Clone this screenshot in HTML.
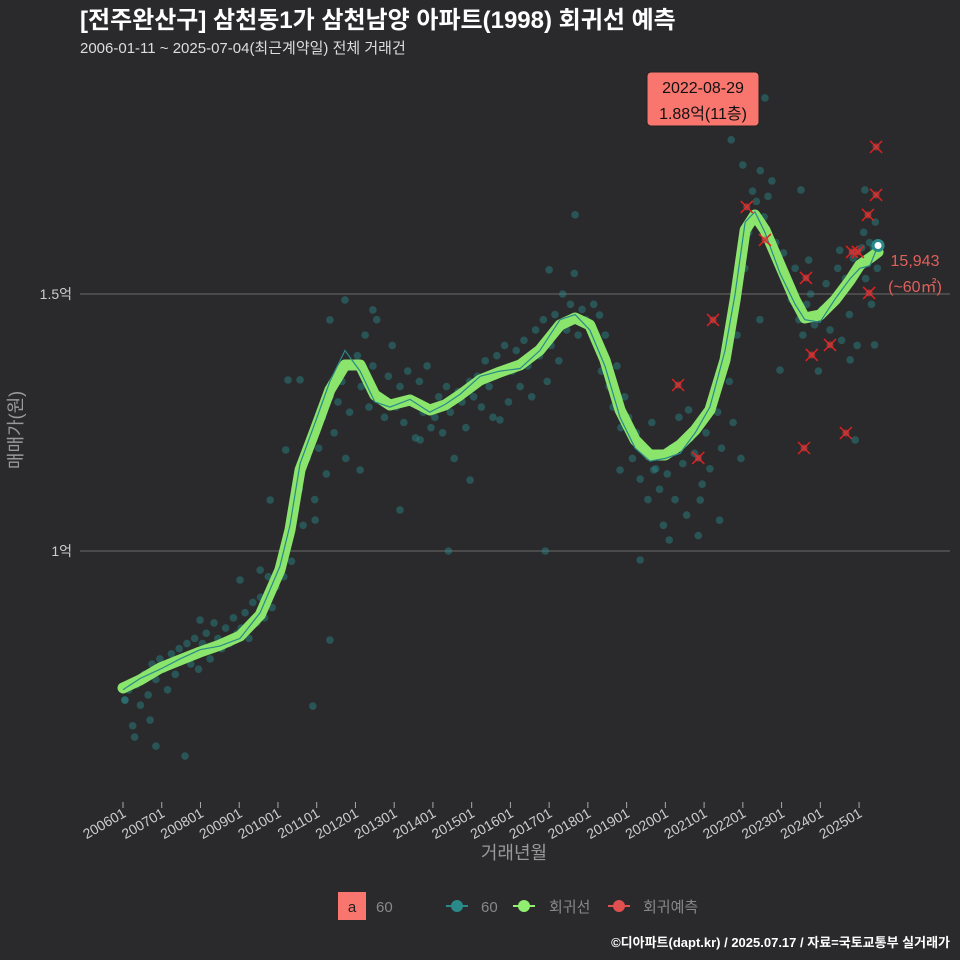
<!DOCTYPE html>
<html><head><meta charset="utf-8">
<style>
html,body{margin:0;padding:0;background:#2a2a2c;}
svg{display:block;font-family:"Liberation Sans","Noto Sans CJK KR",sans-serif;}
</style></head>
<body>
<svg id="chart" width="960" height="960" viewBox="0 0 960 960">
<rect width="960" height="960" fill="#2a2a2c"/>
<text x="80" y="28" fill="#ffffff" font-size="24" font-weight="bold">[전주완산구] 삼천동1가 삼천남양 아파트(1998) 회귀선 예측</text>
<text x="80" y="53" fill="#dddddd" font-size="15">2006-01-11 ~ 2025-07-04(최근계약일) 전체 거래건</text>
<g id="grid"></g>
<g id="dots"></g>
<g id="lines"></g>
<g id="preds"></g>
<g id="axes"></g>
<text x="22" y="430" fill="#999" font-size="18" transform="rotate(-90 22 430)" text-anchor="middle">매매가(원)</text>
<text x="514" y="859" fill="#999" font-size="18" text-anchor="middle">거래년월</text>
<g>
<rect x="647" y="72" width="112" height="54" rx="4" fill="#f8766d" stroke="#222"/>
<text x="703" y="93" text-anchor="middle" font-size="16" fill="#111">2022-08-29</text>
<text x="703" y="119" text-anchor="middle" font-size="16" fill="#111">1.88억(11층)</text>
</g>
<text x="915" y="266" text-anchor="middle" font-size="16" fill="#e0605a">15,943</text>
<text x="915" y="292" text-anchor="middle" font-size="16" fill="#e0605a">(~60㎡)</text>
<g>
<rect x="338" y="892" width="28" height="28" fill="#f8766d"/>
<text x="352" y="912" text-anchor="middle" font-size="15" fill="#222">a</text>
<text x="376" y="912" font-size="15" fill="#888">60</text>
<g><line x1="446" y1="906" x2="468" y2="906" stroke="#2a8a8a" stroke-width="2"/><circle cx="457" cy="906" r="6" fill="#2a8a8a"/><text x="481" y="912" font-size="15" fill="#888">60</text></g>
<g><line x1="513" y1="906" x2="535" y2="906" stroke="#90ee70" stroke-width="2"/><circle cx="524" cy="906" r="6" fill="#90ee70"/><text x="549" y="912" font-size="15" fill="#888">회귀선</text></g>
<g><line x1="608" y1="906" x2="630" y2="906" stroke="#e05050" stroke-width="2"/><circle cx="619" cy="906" r="6" fill="#e05050"/><text x="643" y="912" font-size="15" fill="#888">회귀예측</text></g>
</g>
<text x="950" y="947" text-anchor="end" font-size="13" font-weight="bold" fill="#ffffff">©디아파트(dapt.kr) / 2025.07.17 / 자료=국토교통부 실거래가</text>
</svg>
<script>
const yTickValues=[10000,15000];
const yTickLabels=["1억","1.5억"];
const xTickYears=[2006,2007,2008,2009,2010,2011,2012,2013,2014,2015,2016,2017,2018,2019,2020,2021,2022,2023,2024,2025];
const xTickLabels=["200601","200701","200801","200901","201001","201101","201201","201301","201401","201501","201601","201701","201801","201901","202001","202101","202201","202301","202401","202501"];
const regYears=[2006.0,2006.44,2006.96,2007.47,2007.99,2008.5,2009.02,2009.54,2010.05,2010.31,2010.57,2010.96,2011.34,2011.73,2012.12,2012.5,2012.89,2013.41,2013.92,2014.31,2014.7,2015.22,2015.73,2016.25,2016.76,2017.28,2017.67,2018.05,2018.44,2018.83,2019.22,2019.6,2019.99,2020.38,2020.77,2021.15,2021.54,2021.8,2022.06,2022.31,2022.57,2022.96,2023.35,2023.6,2023.99,2024.38,2024.77,2025.02,2025.28,2025.49];
const regValues=[7335,7490,7724,7880,8035,8171,8346,8755,9630,10409,11576,12354,13132,13619,13619,13035,12840,12938,12743,12840,13035,13327,13482,13619,13911,14397,14533,14397,13716,12743,12160,11868,11868,12062,12354,12743,13716,14883,16245,16537,16245,15564,14883,14533,14592,14883,15272,15564,15700,15817];
const avgValues=[7300,7520,7700,7900,8080,8150,8300,8800,9700,10500,11700,12500,13300,13900,13500,12900,12800,12950,12700,12850,13050,13400,13500,13550,13900,14500,14600,14300,13600,12600,12000,11750,11800,11900,12300,12800,13900,15000,16400,16600,16200,15400,14800,14500,14450,14900,15300,15500,15550,15943];
const outlierYears=[2010.9,2006.85,2007.6,2006.3,2011.34,2010.26,2014.4,2016.9,2013.15,2017.67,
2017.0,2018.3,2019.35,2020.1,2020.9,2021.7,2022.57,2022.0,2023.5,2023.7,
2024.5,2024.77,2024.9,2025.15,2025.4,2022.96,2022.44,2021.4,2020.6,2019.7,
2018.83,2015.73,2014.96,2013.67,2012.12,2011.34,2011.73,2012.45,2010.57,2009.54,
2009.02,2007.99,2006.7,2006.05,2009.8,2010.2,2010.96];
const outlierValues=[6984,6205,6011,6380,8268,13327,10000,10000,10800,16540,
15470,14590,9825,10214,10992,18000,18815,17510,17025,15660,
15850,13717,12160,17025,14010,13520,14500,10600,12744,11576,
11576,12550,11380,12160,11576,14495,14884,14690,13330,9630,
9436,8657,6711,7100,10992,11965,10603];
const dotYears=[
2006.05,2006.15,2006.25,2006.35,2006.45,2006.55,2006.65,2006.75,2006.85,2006.95,
2007.05,2007.15,2007.25,2007.35,2007.45,2007.55,2007.65,2007.75,2007.85,2007.95,
2008.05,2008.15,2008.25,2008.35,2008.45,2008.55,2008.65,2008.75,2008.85,2008.95,
2009.05,2009.15,2009.25,2009.35,2009.45,2009.55,2009.65,2009.75,2009.85,2009.95,
2010.05,2010.15,2010.25,2010.35,2010.45,2010.55,2010.65,2010.75,2010.85,2010.95,
2011.05,2011.15,2011.25,2011.35,2011.45,2011.55,2011.65,2011.75,2011.85,2011.95,
2012.05,2012.15,2012.25,2012.35,2012.45,2012.55,2012.65,2012.75,2012.85,2012.95,
2013.05,2013.15,2013.25,2013.35,2013.45,2013.55,2013.65,2013.75,2013.85,2013.95,
2014.05,2014.15,2014.25,2014.35,2014.45,2014.55,2014.65,2014.75,2014.85,2014.95,
2015.05,2015.15,2015.25,2015.35,2015.45,2015.55,2015.65,2015.75,2015.85,2015.95,
2016.05,2016.15,2016.25,2016.35,2016.45,2016.55,2016.65,2016.75,2016.85,2016.95,
2017.05,2017.15,2017.25,2017.35,2017.45,2017.55,2017.65,2017.75,2017.85,2017.95,
2018.05,2018.15,2018.25,2018.35,2018.45,2018.55,2018.65,2018.75,2018.85,2018.95,
2019.05,2019.15,2019.25,2019.35,2019.45,2019.55,2019.65,2019.75,2019.85,2019.95,
2020.05,2020.15,2020.25,2020.35,2020.45,2020.55,2020.65,2020.75,2020.85,2020.95,
2021.05,2021.15,2021.25,2021.35,2021.45,2021.55,2021.65,2021.75,2021.85,2021.95,
2022.05,2022.15,2022.25,2022.35,2022.45,2022.55,2022.65,2022.75,2022.85,2022.95,
2023.05,2023.15,2023.25,2023.35,2023.45,2023.55,2023.65,2023.75,2023.85,2023.95,
2024.05,2024.15,2024.25,2024.35,2024.45,2024.55,2024.65,2024.75,2024.85,2024.95,
2025.02,2025.07,2025.12,2025.17,2025.22,2025.27,2025.32,2025.37,2025.42,2025.47];
const dotValues=[
7100,7300,6600,7400,7000,7600,7200,7800,7500,7900,
7700,7300,8000,7600,8100,7900,8200,7800,8300,7700,
8200,8400,7900,8600,8300,8100,8500,8200,8700,8400,
8500,8800,8300,9000,8600,9100,8700,9500,8900,9300,
9700,9500,10300,9800,10800,11200,10500,11800,12200,11000,
12000,12600,11500,13000,12300,12900,13300,11800,12700,13600,
13800,13200,14200,12800,13600,14500,13000,12600,13400,14000,
12800,13200,12500,13500,12900,12200,13300,12700,13600,12400,
12600,13000,12300,13200,12700,11800,13100,12900,12400,13300,
13000,13400,12800,13700,13200,12600,13800,13500,14000,12900,
13500,13900,13200,14100,13600,13000,14300,13800,14500,13300,
14000,14600,13700,15000,14300,14800,15400,14200,14700,14500,
14400,14800,14000,13500,14200,13200,12800,13600,12400,13000,
12600,11800,12300,11400,12000,11000,12500,11600,11200,10500,
11500,12000,11000,12600,11700,10700,12200,11900,10300,11300,
12300,11600,13000,12700,12000,13800,13300,12500,14200,11800,
15500,16200,17000,16800,17400,16500,16900,17200,16000,15500,
15800,15200,14900,15500,14500,14200,14800,15000,14400,13500,
14700,15200,14300,14900,15500,14100,15300,14600,15700,14000,
15600,15900,16200,15300,15700,16000,14800,15900,16400,15500];
const predYears=[2020.33,2020.85,2021.23,2022.1,2022.57,2023.63,2023.78,2024.25,2023.58,2024.66,2024.82,2024.97,2025.23,2025.44,2025.44,2025.26];
const predValues=[13230,11810,14495,16694,16052,15313,13814,14009,12004,12296,15818,15818,16539,16928,17862,15021];
const NS="http://www.w3.org/2000/svg";
function xs(yr){return 123+(yr-2006)*38.74;}
function ys(v){return 551-(v-10000)*0.0514;}
function mk(tag,attrs,parent){const e=document.createElementNS(NS,tag);for(const k in attrs)e.setAttribute(k,attrs[k]);document.getElementById(parent).appendChild(e);return e;}
yTickValues.forEach((v,i)=>{
 const l=mk('line',{x1:80,x2:950,y1:ys(v),y2:ys(v),stroke:'#6a6a6a','stroke-width':1},'grid');
 
 
 const t=mk('text',{x:72,y:ys(v)+5,'text-anchor':'end','font-size':14,fill:'#cccccc'},'axes');
 t.textContent=yTickLabels[i];
 
 
});
xTickYears.forEach((yr,i)=>{
 const x=xs(yr);
 const l=mk('line',{x1:x,x2:x,y1:802,y2:808,stroke:'#aaa'},'axes');
 
 
 const t=mk('text',{x:x+4,y:816,'text-anchor':'end','font-size':14,fill:'#cccccc',transform:`rotate(-30 ${x+4} 816)`},'axes');
 t.textContent=xTickLabels[i];
 
 
});
function dot(yr,v){
 const c=mk('circle',{cx:xs(yr),cy:ys(v),r:3.8,fill:'#2a8a8a','fill-opacity':0.45},'dots');
 
 
}
dotYears.forEach((yr,i)=>dot(yr,dotValues[i]));
outlierYears.forEach((yr,i)=>dot(yr,outlierValues[i]));
const gp=mk('path',{d:regYears.map((yr,i)=>(i?'L':'M')+xs(yr)+','+ys(regValues[i])).join(''),fill:'none',stroke:'#90ee70','stroke-width':11,'stroke-linejoin':'round','stroke-linecap':'round','stroke-opacity':0.95},'lines');


const bp=mk('path',{d:regYears.map((yr,i)=>(i?'L':'M')+xs(yr)+','+ys(avgValues[i])).join(''),fill:'none',stroke:'#2a8a8a','stroke-width':1.2},'lines');


const lc=mk('circle',{cx:xs(regYears[regYears.length-1]),cy:ys(avgValues[avgValues.length-1]),r:5,fill:'#ffffff',stroke:'#2a8a8a','stroke-width':3},'lines');


predYears.forEach((yr,i)=>{
 const x=xs(yr),y=ys(predValues[i]);
 const p=mk('path',{d:`M${x-6},${y-6}L${x+6},${y+6}M${x-6},${y+6}L${x+6},${y-6}`,stroke:'#e02020','stroke-width':1.5},'preds');
 
 
 const c=mk('circle',{cx:x,cy:y,r:3.5,fill:'#d04040','fill-opacity':0.6},'preds');
 
 
});
</script>
</body></html>
